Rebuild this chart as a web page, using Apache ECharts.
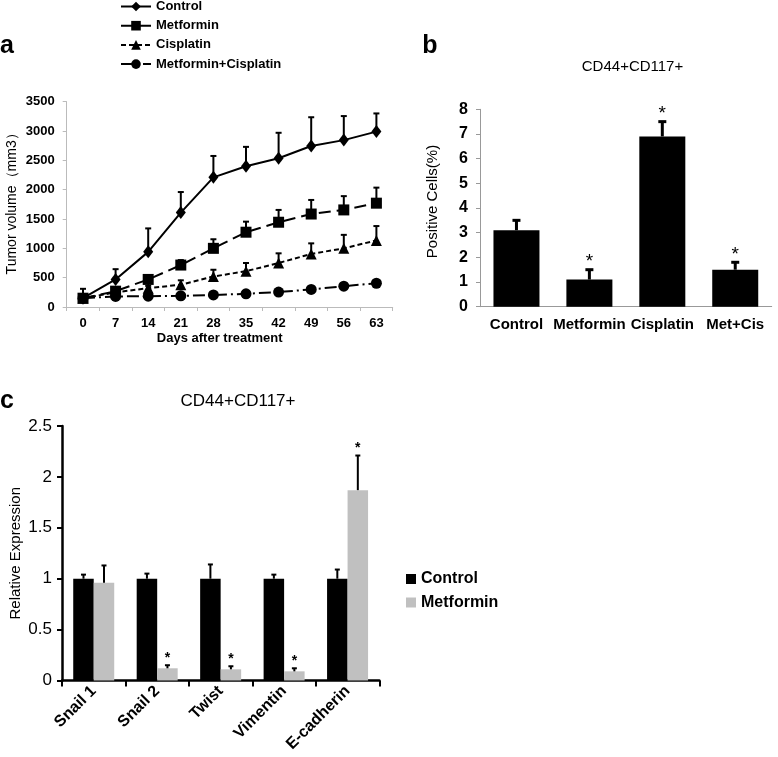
<!DOCTYPE html>
<html><head><meta charset="utf-8">
<script src="https://cdn.jsdelivr.net/npm/echarts@6/dist/echarts.min.js"></script>
<style>html,body{margin:0;padding:0;background:#fff}#c{width:778px;height:757px}</style>
</head><body><div id="c"></div>
<script>
// ---------- Panel a: tumor volume ----------
const days = ['0','7','14','21','28','35','42','49','56','63'];
const seriesNamesA = ['Control','Metformin','Cisplatin','Metformin+Cisplatin'];
const controlVol    = [150, 470, 940, 1610, 2210, 2400, 2535, 2745, 2845, 2990];
const controlVolErr = [310, 645, 1340, 1960, 2575, 2730, 2970, 3235, 3255, 3300];
const metVol        = [150, 270, 470, 715, 1000, 1275, 1445, 1585, 1655, 1770];
const metVolErr     = [160, 300, 490, 800, 1155, 1455, 1655, 1825, 1890, 2035];
const cisVol        = [150, 250, 320, 380, 520, 610, 750, 905, 1000, 1135];
const cisVolErr     = [160, 270, 360, 455, 635, 750, 915, 1085, 1230, 1380];
const comboVol      = [150, 180, 185, 190, 205, 225, 255, 300, 355, 405];
const comboVolErr   = [160, 190, 195, 200, 215, 240, 270, 320, 400, 440];
const yTicksA = {min: 0, max: 3500, interval: 500};

// ---------- Panel b: positive cells ----------
const groupsB = ['Control','Metformin','Cisplatin','Met+Cis'];
const positiveCells    = [3.1, 1.1, 6.9, 1.5];
const positiveCellsErr = [3.5, 1.5, 7.5, 1.8];
const starsB = [0, 1, 1, 1];
const yTicksB = {min: 0, max: 8, interval: 1};

// ---------- Panel c: relative expression ----------
const genes = ['Snail 1','Snail 2','Twist','Vimentin','E-cadherin'];
const ctrlExpr    = [1, 1, 1, 1, 1];
const ctrlExprErr = [1.04, 1.05, 1.14, 1.04, 1.09];
const metExpr     = [0.96, 0.12, 0.11, 0.09, 1.87];
const metExprErr  = [1.13, 0.15, 0.14, 0.12, 2.21];
const starsCtrl = [0, 0, 0, 0, 0];
const starsMet  = [0, 1, 1, 1, 1];
const yTicksC = {min: 0, max: 2.5, interval: 0.5};

const FONT = '"Liberation Sans", Arial, sans-serif';
const chart = echarts.init(document.getElementById('c'), null, {renderer: 'canvas'});

function errRender(offset, capW, lw, starFont, starGap) {
  return function (params, api) {
    const x = api.value(0), v = api.value(1), e = api.value(2), s = api.value(3);
    const p0 = api.coord([x, v]);
    const p1 = api.coord([x, e]);
    const cx = p0[0] + offset;
    const ch = [
      {type: 'line', shape: {x1: cx, y1: p0[1], x2: cx, y2: p1[1]}, style: {stroke: '#000', lineWidth: lw}},
      {type: 'line', shape: {x1: cx - capW / 2, y1: p1[1], x2: cx + capW / 2, y2: p1[1]}, style: {stroke: '#000', lineWidth: lw}}
    ];
    if (s) {
      ch.push({type: 'text', x: cx, y: p1[1] - starGap,
        style: {text: '*', font: starFont, fill: '#000', align: 'center', verticalAlign: 'middle'}});
    }
    return {type: 'group', children: ch};
  };
}
function errData(vals, errs, stars) {
  return vals.map((v, i) => [i, v, errs[i], stars ? stars[i] : 0]);
}

const lineDefs = [
  {name: 'Control', data: controlVol, err: controlVolErr, symbol: 'diamond', size: [10, 13], type: 'solid'},
  {name: 'Metformin', data: metVol, err: metVolErr, symbol: 'rect', size: 11, type: [12, 6]},
  {name: 'Cisplatin', data: cisVol, err: cisVolErr, symbol: 'triangle', size: 11, type: [5, 3]},
  {name: 'Metformin+Cisplatin', data: comboVol, err: comboVolErr, symbol: 'circle', size: 11, type: [12, 4, 2, 4]}
];

const series = [];
lineDefs.forEach(d => {
  series.push({
    type: 'custom', xAxisIndex: 0, yAxisIndex: 0, z: 1, silent: true,
    renderItem: errRender(0, 6, 2, '', 0), data: errData(d.data, d.err)
  });
});
lineDefs.forEach(d => {
  series.push({
    name: d.name, type: 'line', xAxisIndex: 0, yAxisIndex: 0, z: 3,
    data: d.data, symbol: d.symbol, symbolSize: d.size, showAllSymbol: true,
    lineStyle: {color: '#000', width: 2, type: d.type},
    itemStyle: {color: '#000', borderWidth: 0}
  });
});
series.push({
  name: 'b-cells', type: 'bar', xAxisIndex: 1, yAxisIndex: 1, barWidth: 46,
  data: positiveCells, itemStyle: {color: '#000'}
});
series.push({
  type: 'custom', xAxisIndex: 1, yAxisIndex: 1, silent: true,
  renderItem: errRender(0, 8, 3, '19px ' + FONT, 8), data: errData(positiveCells, positiveCellsErr, starsB)
});
series.push({
  name: 'c-Control', type: 'bar', xAxisIndex: 2, yAxisIndex: 2, barWidth: 20.5, barGap: '0%',
  data: ctrlExpr, itemStyle: {color: '#000'}
});
series.push({
  name: 'c-Metformin', type: 'bar', xAxisIndex: 2, yAxisIndex: 2, barWidth: 20.5, barGap: '0%',
  data: metExpr, itemStyle: {color: '#c0c0c0'}
});
series.push({
  type: 'custom', xAxisIndex: 2, yAxisIndex: 2, silent: true, z: 3,
  renderItem: errRender(-10.25, 5, 2, 'bold 14px ' + FONT, 7), data: errData(ctrlExpr, ctrlExprErr, starsCtrl)
});
series.push({
  type: 'custom', xAxisIndex: 2, yAxisIndex: 2, silent: true, z: 3,
  renderItem: errRender(10.25, 5, 2, 'bold 14px ' + FONT, 7), data: errData(metExpr, metExprErr, starsMet)
});

const txt = (x, y, text, font, extra) => Object.assign({
  type: 'text', x: x, y: y,
  style: {text: text, font: font, fill: '#000', align: 'center', verticalAlign: 'middle'}
}, extra || {});

chart.setOption({
  animation: false,
  backgroundColor: '#fff',
  textStyle: {fontFamily: FONT},
  graphic: [
    txt(7, 46, 'a', 'bold 25px ' + FONT),
    txt(430, 46, 'b', 'bold 25px ' + FONT),
    txt(7, 401, 'c', 'bold 25px ' + FONT),
    txt(632.5, 67, 'CD44+CD117+', '15px ' + FONT),
    txt(238, 401, 'CD44+CD117+', '17px ' + FONT)
  ],
  legend: [
    {
      data: seriesNamesA, orient: 'vertical', left: 120, top: 0, padding: 0,
      itemWidth: 30, itemHeight: 12, itemGap: 6.2,
      textStyle: {fontFamily: FONT, fontSize: 13, fontWeight: 'bold', color: '#000'},
      selectedMode: false
    },
    {
      data: ['c-Control', 'c-Metformin'], orient: 'vertical', left: 401, top: 566,
      itemWidth: 10, itemHeight: 10, itemGap: 7.5, icon: 'rect',
      formatter: n => n.slice(2),
      textStyle: {fontFamily: FONT, fontSize: 16, fontWeight: 'bold', color: '#000'},
      selectedMode: false
    }
  ],
  grid: [
    {left: 66.7, top: 101.7, width: 326, height: 205.3},
    {left: 480, top: 109.3, width: 291.7, height: 197.4},
    {left: 62, top: 426, width: 317.3, height: 254.5}
  ],
  xAxis: [
    {
      type: 'category', gridIndex: 0, data: days, boundaryGap: true,
      axisLine: {lineStyle: {color: '#bbb', width: 1}},
      axisTick: {show: true, interval: 0, length: 4, lineStyle: {color: '#bbb'}},
      axisLabel: {color: '#000', fontSize: 13, fontWeight: 'bold', margin: 10, interval: 0},
      name: 'Days after treatment', nameLocation: 'middle', nameGap: 25,
      nameTextStyle: {color: '#000', fontSize: 13, fontWeight: 'bold', padding: [0, 20, 0, 0]}
    },
    {
      type: 'category', gridIndex: 1, data: groupsB,
      axisLine: {lineStyle: {color: '#999', width: 1}},
      axisTick: {show: false},
      axisLabel: {color: '#000', fontSize: 15, fontWeight: 'bold', margin: 11, interval: 0}
    },
    {
      type: 'category', gridIndex: 2, data: genes,
      axisLine: {lineStyle: {color: '#000', width: 2.5}},
      axisTick: {show: true, interval: 0, length: 6, lineStyle: {color: '#000', width: 2}},
      axisLabel: {color: '#000', fontSize: 16, fontWeight: 'bold', rotate: 45, margin: 8, interval: 0}
    }
  ],
  yAxis: [
    {
      type: 'value', gridIndex: 0, min: yTicksA.min, max: yTicksA.max, interval: yTicksA.interval,
      axisLine: {show: true, lineStyle: {color: '#bbb'}},
      axisTick: {show: true, length: 4, lineStyle: {color: '#bbb'}},
      splitLine: {show: false},
      axisLabel: {color: '#000', fontSize: 13, fontWeight: 'bold', margin: 12, formatter: v => String(v)},
      name: 'Tumor volume（mm3）', nameLocation: 'middle', nameGap: 48,
      nameTextStyle: {color: '#000', fontSize: 14, padding: [0, 0, 0, 8]}
    },
    {
      type: 'value', gridIndex: 1, min: yTicksB.min, max: yTicksB.max, interval: yTicksB.interval,
      axisLine: {show: true, lineStyle: {color: '#999'}},
      axisTick: {show: true, length: 4, lineStyle: {color: '#999'}},
      splitLine: {show: false},
      axisLabel: {color: '#000', fontSize: 16, fontWeight: 'bold', margin: 12},
      name: 'Positive Cells(%)', nameLocation: 'middle', nameGap: 40,
      nameTextStyle: {color: '#000', fontSize: 15, padding: [0, 0, 0, 13]}
    },
    {
      type: 'value', gridIndex: 2, min: yTicksC.min, max: yTicksC.max, interval: yTicksC.interval,
      axisLine: {show: true, lineStyle: {color: '#000', width: 2.5}},
      axisTick: {show: true, length: 5, lineStyle: {color: '#000', width: 2}},
      splitLine: {show: false},
      axisLabel: {color: '#000', fontSize: 17, margin: 10},
      name: 'Relative Expression', nameLocation: 'middle', nameGap: 39,
      nameTextStyle: {color: '#000', fontSize: 15}
    }
  ],
  series: series
});
</script></body></html>
